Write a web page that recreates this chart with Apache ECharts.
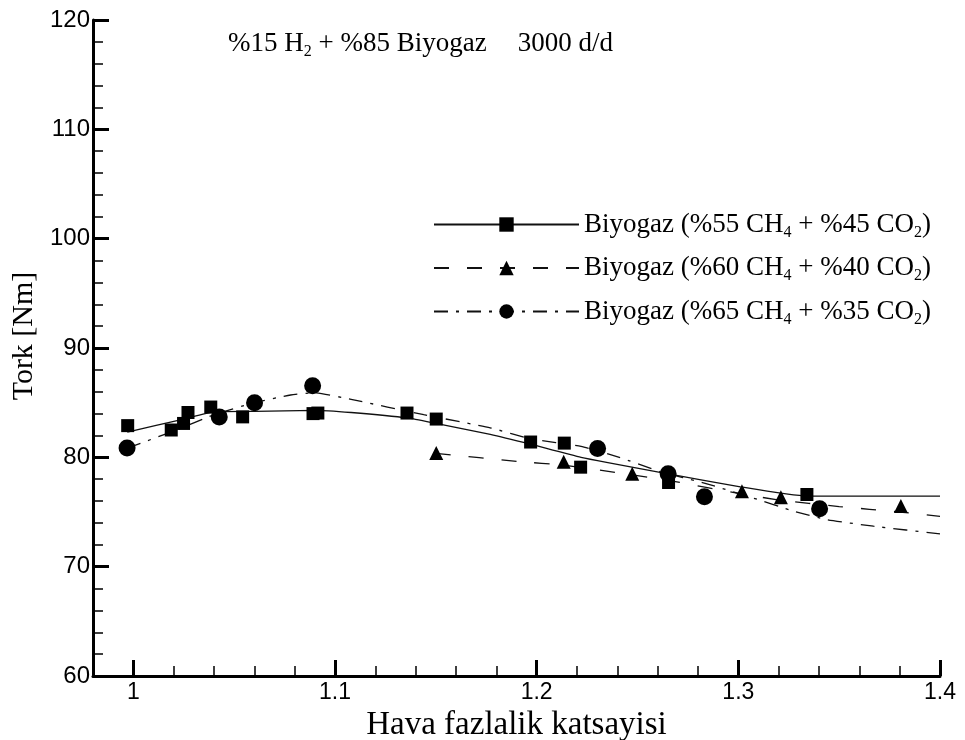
<!DOCTYPE html>
<html>
<head>
<meta charset="utf-8">
<script src="https://cdn.jsdelivr.net/npm/echarts@6/dist/echarts.min.js"></script>
<style>
  html, body { margin: 0; padding: 0; background: #fff; }
  #chart { width: 965px; height: 740px; }
</style>
</head>
<body>
<div id="chart"></div>
<script>
// Tork vs. hava fazlalik katsayisi, %15 H2 + %85 biyogaz, 3000 d/d

const xTickValues = [1, 1.1, 1.2, 1.3, 1.4];
const xMin = 0.98, xMax = 1.4;
const yMin = 60, yMax = 120, yStep = 10;

// measured points
const points55 = [
  [0.9972, 82.9], [1.0188, 82.5], [1.0249, 83.1], [1.0271, 84.1], [1.0384, 84.6],
  [1.0542, 83.7], [1.0891, 84.0], [1.0915, 84.05], [1.1357, 84.05], [1.1502, 83.5],
  [1.1970, 81.4], [1.2137, 81.3], [1.2218, 79.1], [1.2654, 77.7], [1.3340, 76.6]
];
const points60 = [
  [1.1502, 80.4], [1.2134, 79.6], [1.2474, 78.5], [1.3018, 76.9], [1.3211, 76.35], [1.3806, 75.55]
];
const points65 = [
  [0.9969, 80.85], [1.0426, 83.7], [1.0601, 85.0], [1.0889, 86.55],
  [1.2302, 80.8], [1.2652, 78.5], [1.2832, 76.4], [1.3403, 75.3]
];

// fitted curves
const curve55 = [
  [0.997, 82.3], [1.025, 83.5], [1.04, 84.15], [1.06, 84.2], [1.09, 84.3], [1.108, 84.1],
  [1.136, 83.6], [1.15, 83.1], [1.177, 82.1], [1.197, 81.2], [1.222, 80.0], [1.262, 78.6],
  [1.301, 77.3], [1.334, 76.45], [1.4, 76.45]
];
const curve60 = [
  [1.15, 80.37], [1.192, 79.6], [1.213, 79.3], [1.247, 78.4], [1.268, 77.8],
  [1.30, 76.7], [1.32, 76.1], [1.35, 75.5], [1.38, 75.0], [1.4, 74.6]
];
const curve65 = [
  [0.997, 80.85], [1.02, 82.4], [1.04, 83.9], [1.06, 85.0], [1.078, 85.7], [1.09, 85.9],
  [1.108, 85.3], [1.144, 83.9], [1.177, 82.7], [1.197, 81.7], [1.222, 81.0], [1.241, 80.0],
  [1.261, 78.7], [1.284, 77.6], [1.307, 76.3], [1.327, 75.1], [1.344, 74.3], [1.367, 73.7], [1.4, 73.0]
];

const mixes = [
  { ch4: 55, co2: 45, symbol: 'rect', size: 13, dash: 'solid', points: points55, curve: curve55 },
  { ch4: 60, co2: 40, symbol: 'triangle', size: 14, dash: [15, 18], points: points60, curve: curve60 },
  { ch4: 65, co2: 35, symbol: 'circle', size: 17, dash: [14, 8, 3, 8], points: points65, curve: curve65 }
];

const SERIF = "'Liberation Serif', 'Times New Roman', serif";
const SANS = "'Liberation Sans', Arial, sans-serif";

const richText = {
  t: { fontFamily: SERIF, fontSize: 27, fontWeight: 'normal', lineHeight: 32, color: '#000' },
  s: { fontFamily: SERIF, fontSize: 16, fontWeight: 'normal', lineHeight: 16, verticalAlign: 'bottom', color: '#000' },
  g: { width: 31 }
};

const curveName = m => 'Biyogaz (%' + m.ch4 + ' CH4 + %' + m.co2 + ' CO2)';
const legendLabel = {};
mixes.forEach(m => {
  legendLabel[curveName(m)] =
    '{t|Biyogaz (%' + m.ch4 + ' CH}{s|4}{t| + %' + m.co2 + ' CO}{s|2}{t|)}';
});

const series = [];
mixes.forEach(m => {
  series.push({
    name: curveName(m),
    type: 'line',
    data: m.curve,
    smooth: 0.15,
    showSymbol: false,
    symbol: m.symbol,
    silent: true,
    lineStyle: { color: '#111', width: 1.3, type: m.dash },
    itemStyle: { color: '#000' },
    z: 2
  });
  series.push({
    name: 'pts-' + m.ch4,
    type: 'scatter',
    data: m.points,
    symbol: m.symbol,
    symbolSize: m.size,
    itemStyle: { color: '#000', opacity: 1 },
    silent: true,
    z: 3
  });
});

const chart = echarts.init(document.getElementById('chart'), null, { renderer: 'canvas' });
chart.setOption({
  animation: false,
  backgroundColor: '#fff',
  title: {
    text: '{t|%15 H}{s|2}{t| + %85 Biyogaz}{g|}{t|3000 d/d}',
    left: 228,
    top: 28,
    padding: 0,
    textStyle: { fontWeight: 'normal', rich: richText }
  },
  legend: {
    orient: 'vertical',
    left: 433,
    top: 211,
    itemWidth: 145,
    itemHeight: 18,
    itemGap: 14,
    selectedMode: false,
    padding: 0,
    data: mixes.map(m => curveName(m)),
    formatter: name => legendLabel[name],
    textStyle: { rich: richText }
  },
  grid: { left: 93, right: 25, top: 20, bottom: 64, containLabel: false, outerBoundsMode: 'none' },
  xAxis: [
    {
      type: 'value', min: xMin, max: xMax, position: 'bottom',
      axisLine: { lineStyle: { color: '#000', width: 3 } },
      axisTick: { inside: true, length: 16, customValues: xTickValues, lineStyle: { color: '#000', width: 3 } },
      axisLabel: {
        customValues: xTickValues,
        formatter: v => String(Math.round(v * 10) / 10),
        fontFamily: SANS, fontSize: 23, color: '#000', margin: 5
      },
      splitLine: { show: false },
      name: 'Hava fazlalik katsayisi',
      nameLocation: 'middle',
      nameGap: 18,
      nameTextStyle: { fontFamily: SERIF, fontSize: 33, color: '#000', verticalAlign: 'top' }
    },
    {
      type: 'value', min: xMin, max: xMax, interval: 0.02, position: 'bottom',
      axisLine: { show: false },
      axisTick: { inside: true, length: 10, lineStyle: { color: '#000', width: 1.5 } },
      axisLabel: { show: false },
      splitLine: { show: false }
    }
  ],
  yAxis: {
    type: 'value', min: yMin, max: yMax, interval: yStep,
    axisLine: { show: true, lineStyle: { color: '#000', width: 3 } },
    axisTick: { show: true, inside: true, length: 16, lineStyle: { color: '#000', width: 3 } },
    minorTick: { show: true, splitNumber: 5, length: 10, lineStyle: { color: '#000', width: 1.5 } },
    axisLabel: { fontFamily: SANS, fontSize: 24, color: '#000', margin: 3 },
    splitLine: { show: false },
    minorSplitLine: { show: false },
    name: 'Tork [Nm]',
    nameLocation: 'middle',
    nameRotate: 90,
    nameGap: 38,
    nameTextStyle: { fontFamily: SERIF, fontSize: 30, color: '#000', padding: [0, 0, 0, 24] }
  },
  series: series
});
</script>
</body>
</html>
